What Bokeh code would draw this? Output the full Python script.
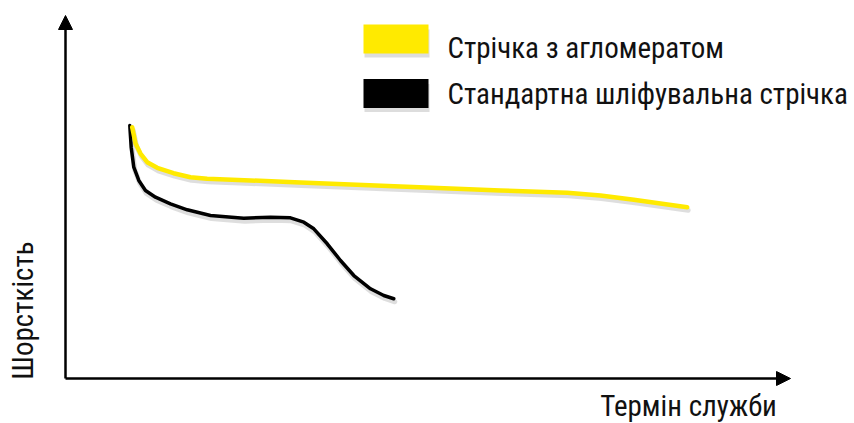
from bokeh.plotting import figure
from bokeh.models import Range1d, Arrow, NormalHead, ColumnDataSource
from bokeh.transform import dodge
from bokeh.core.properties import value
from bokeh.embed import file_html
from bokeh.resources import INLINE
import math

# ---- data (service life vs roughness, arbitrary units) ----
agl_life = [9.20, 9.66, 10.34, 11.27, 12.65, 14.90, 17.24, 19.54, 25.52, 32.41, 46.21, 60.0,
            69.2, 73.79, 78.39, 85.75]
agl_rough = [69.23, 64.74, 61.98, 59.59, 58.04, 56.56, 55.45, 55.01, 54.55, 54.0, 52.89, 51.79,
             51.16, 50.41, 49.23, 47.19]

std_life = [8.87, 9.06, 9.42, 10.11, 11.03, 12.41, 14.48, 16.79, 20.0, 24.59, 28.28, 31.03,
            32.87, 34.25, 36.10, 37.93, 39.77, 42.07, 43.90, 45.28]
std_rough = [69.70, 63.72, 58.21, 54.55, 51.79, 49.94, 48.13, 46.47, 44.90, 44.16, 44.44, 44.27,
             43.06, 41.24, 37.11, 32.51, 28.37, 24.71, 22.87, 21.96]

series_names = ["Стрічка з агломератом", "Стандартна шліфувальна стрічка"]
x_label = "Термін служби"
y_label = "Шорсткість"

YELLOW = "#FFEA00"
FONT = "Roboto Condensed, Roboto"

W, H = 854, 423
SX, SY = 7.25, 3.63
def dx(px):
    return (px - 65) / SX
def dy(py):
    return (378 - py) / SY

p = figure(width=W, height=H, output_backend="svg", toolbar_location=None,
           x_range=Range1d(dx(0), dx(W)), y_range=Range1d(dy(H), dy(0)),
           min_border=0)
p.axis.visible = False
p.grid.visible = False
p.outline_line_color = None
p.background_fill_color = "white"

p.add_layout(Arrow(end=NormalHead(size=14, fill_color="black", line_color="black"),
                   x_start=0, y_start=0, x_end=0, y_end=100, line_width=2.5, line_color="black"))
p.add_layout(Arrow(end=NormalHead(size=14, fill_color="black", line_color="black"),
                   x_start=0, y_start=0, x_end=100, y_end=0, line_width=2.5, line_color="black"))

src_a = ColumnDataSource(dict(x=agl_life, y=agl_rough))
src_s = ColumnDataSource(dict(x=std_life, y=std_rough))

for src in (src_s, src_a):
    p.line(x=dodge("x", 1.0 / SX, range=p.x_range), y=dodge("y", -3.0 / SY, range=p.y_range),
           source=src, line_color="#888888", line_alpha=0.28, line_width=5,
           line_join="round", line_cap="round")

p.line("x", "y", source=src_s, line_color="black", line_width=3.5, line_join="round", line_cap="round")
p.line("x", "y", source=src_a, line_color=YELLOW, line_width=4.5, line_join="round", line_cap="round")

leg_x = dx(395.5)
leg_y = [dy(38.5), dy(93)]
p.rect(x=[dx(396.5)] * 2, y=[dy(43), dy(97.5)], width=65, height=28,
       width_units="screen", height_units="screen", fill_color="#777777", fill_alpha=0.25,
       line_color=None)
p.rect(x=[leg_x] * 2, y=leg_y, width=65, height=29, width_units="screen", height_units="screen",
       fill_color=[YELLOW, "black"], line_color=None)
p.text(x=[dx(447)] * 2, y=[dy(47.5), dy(93.5)], text=series_names, text_font=value(FONT),
       text_font_size="29px", text_color="#111111", text_align="left", text_baseline="middle")

p.text(x=[dx(688)], y=[dy(405)], text=[x_label], text_font=value(FONT), text_font_size="29px",
       text_color="#111111", text_align="center", text_baseline="middle")
p.text(x=[dx(22)], y=[dy(310)], text=[y_label], text_font=value(FONT), text_font_size="29px",
       text_color="#111111", text_align="center", text_baseline="middle", angle=math.pi / 2)

open("out.html", "w").write(file_html(p, INLINE))
